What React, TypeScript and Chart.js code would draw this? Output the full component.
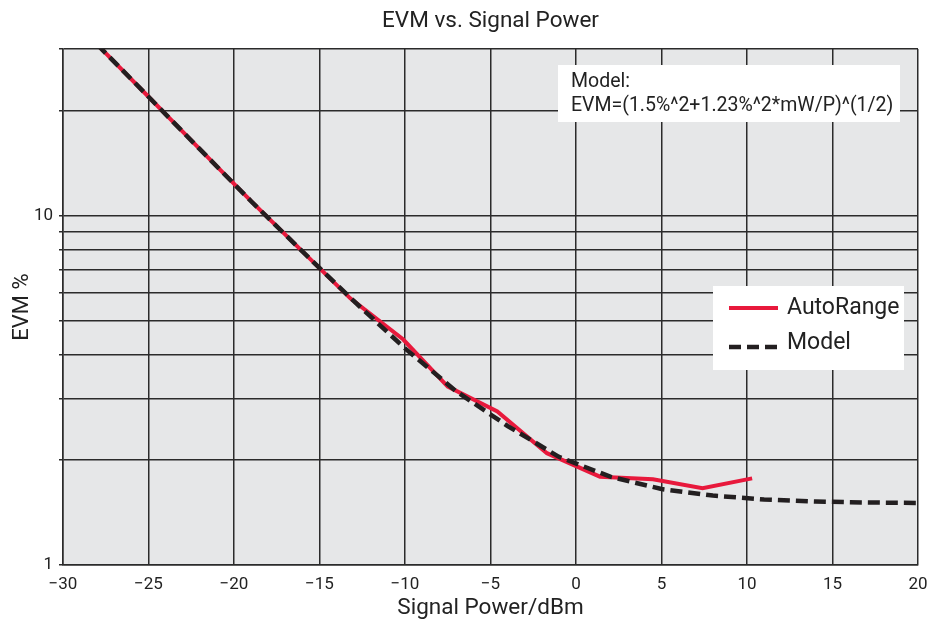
import React, { useEffect, useRef } from 'react';
import { Chart, registerables } from 'chart.js';

Chart.register(...registerables);

// ---- data ----
const autoRangePower = [-28, -25, -22, -19, -16, -13.2, -10.1, -7.5, -4.6, -1.7, 1.4, 4.5, 7.4, 10.3];
const autoRangeEvm = [30.9, 21.9, 15.5, 11.0, 7.9, 5.8, 4.42, 3.24, 2.75, 2.09, 1.79, 1.76, 1.66, 1.77];
const modelPower = [-28, -25, -22, -19, -16, -13, -10, -7, -4, -1, 2, 5, 8, 11, 14, 17, 20];
const modelEvm = [30.9, 21.9, 15.5, 11.0, 7.9, 5.7, 4.17, 3.14, 2.5, 2.04, 1.79, 1.65, 1.58, 1.54, 1.52, 1.51, 1.505];
const yGridValues = [1, 2, 3, 4, 5, 6, 7, 8, 9, 10, 20, 30];
const yLabelValues = [1, 10];
const seriesNames = ['AutoRange', 'Model'];
const chartTitle = 'EVM vs. Signal Power';
const xAxisTitle = 'Signal Power/dBm';
const yAxisTitle = 'EVM %';
const noteLines = ['Model:', 'EVM=(1.5%^2+1.23%^2*mW/P)^(1/2)'];

const FONT = 'Roboto, "Noto Sans", sans-serif';
const RED = '#e8193c';
const DARK = '#231f20';
const GRID = '#2b2b2b';

const toPoints = (xs: number[], ys: number[]) => xs.map((x, i) => ({ x, y: ys[i] }));

const decorPlugin = {
  id: 'decor',
  beforeDraw(chart: any) {
    const { ctx, chartArea: a } = chart;
    ctx.save();
    ctx.fillStyle = '#e6e7e8';
    ctx.fillRect(a.left, a.top, a.right - a.left, a.bottom - a.top);
    ctx.restore();
  },
  afterDraw(chart: any) {
    const { ctx, chartArea: a } = chart;
    const cx = (a.left + a.right) / 2;
    ctx.save();
    // titles
    ctx.fillStyle = '#222';
    ctx.textAlign = 'center';
    ctx.textBaseline = 'middle';
    ctx.font = `22.5px ${FONT}`;
    ctx.fillText(chartTitle, cx, 21);
    ctx.font = `22.5px ${FONT}`;
    ctx.fillText(xAxisTitle, cx, 608);

    // model note box
    const nx = a.left + 495;
    const ny = a.top + 16;
    ctx.fillStyle = '#ffffff';
    ctx.fillRect(nx, ny, 342, 57);
    ctx.fillStyle = '#222';
    ctx.textAlign = 'left';
    ctx.font = `19.5px ${FONT}`;
    ctx.fillText(noteLines[0], nx + 13, ny + 17);
    ctx.fillText(noteLines[1], nx + 13, ny + 41);

    // legend box
    const lx = a.left + 650;
    const ly = a.top + 237;
    ctx.fillStyle = '#ffffff';
    ctx.fillRect(lx, ly, 191, 84);
    ctx.lineWidth = 4;
    ctx.strokeStyle = RED;
    ctx.beginPath();
    ctx.moveTo(lx + 16, ly + 22);
    ctx.lineTo(lx + 65, ly + 22);
    ctx.stroke();
    ctx.strokeStyle = DARK;
    ctx.lineWidth = 4.5;
    ctx.setLineDash([12, 6]);
    ctx.beginPath();
    ctx.moveTo(lx + 16, ly + 61);
    ctx.lineTo(lx + 64, ly + 61);
    ctx.stroke();
    ctx.setLineDash([]);
    ctx.fillStyle = '#222';
    ctx.font = `23px ${FONT}`;
    ctx.fillText(seriesNames[0], lx + 74, ly + 22);
    ctx.fillText(seriesNames[1], lx + 74, ly + 57);
    ctx.restore();
  },
};

export default function App() {
  const ref = useRef<HTMLCanvasElement | null>(null);

  useEffect(() => {
    if (!ref.current) return;
    const chart = new Chart(ref.current, {
      type: 'line',
      data: {
        datasets: [
          {
            label: seriesNames[0],
            data: toPoints(autoRangePower, autoRangeEvm),
            borderColor: RED,
            backgroundColor: RED,
            borderWidth: 4,
            pointRadius: 0,
            tension: 0,
            order: 1,
          },
          {
            label: seriesNames[1],
            data: toPoints(modelPower, modelEvm),
            borderColor: DARK,
            backgroundColor: DARK,
            borderWidth: 4.5,
            borderDash: [12, 6],
            pointRadius: 0,
            tension: 0,
            order: 0,
          },
        ],
      },
      options: {
        animation: false,
        responsive: true,
        maintainAspectRatio: false,
        layout: { padding: { left: 0, right: 10, top: 49, bottom: 0 } },
        plugins: {
          legend: { display: false },
          title: { display: false },
          tooltip: { enabled: false },
        },
        scales: {
          x: {
            type: 'linear',
            min: -30,
            max: 20,
            ticks: {
              stepSize: 5,
              padding: 10,
              color: '#222',
              font: { family: FONT, size: 17 },
              callback: (v: any) => (Number(v) < 0 ? '\u2212' + Math.abs(Number(v)) : String(v)),
              maxRotation: 0,
            },
            grid: { color: GRID, lineWidth: 1.5, drawTicks: false },
            border: { color: GRID, width: 1.5 },
            afterFit: (s: any) => {
              s.height = 65;
              s.paddingLeft = 0;
              s.paddingRight = 0;
            },
          },
          y: {
            type: 'logarithmic',
            min: 1,
            max: 30,
            afterBuildTicks: (s: any) => { s.ticks = yGridValues.map((v) => ({ value: v })); },
            ticks: {
              padding: 6,
              color: '#222',
              font: { family: FONT, size: 17 },
              autoSkip: false,
              callback: (v: any) => (yLabelValues.includes(Number(v)) ? String(v) : ''),
            },
            grid: { color: GRID, lineWidth: 1.5, tickLength: 4 },
            border: { color: GRID, width: 1.5 },
            title: {
              display: true,
              text: yAxisTitle,
              color: '#222',
              font: { family: FONT, size: 22 },
              padding: { top: 9, bottom: 0 },
            },
            afterFit: (s: any) => {
              s.width = 63;
              s.paddingTop = 0;
              s.paddingBottom = 0;
            },
          },
        },
      },
      plugins: [decorPlugin],
    });
    return () => chart.destroy();
  }, []);

  return (
    <div style={{ position: 'fixed', left: 0, top: 0, width: 928, height: 630, background: '#fff' }}>
      <canvas ref={ref} />
    </div>
  );
}
